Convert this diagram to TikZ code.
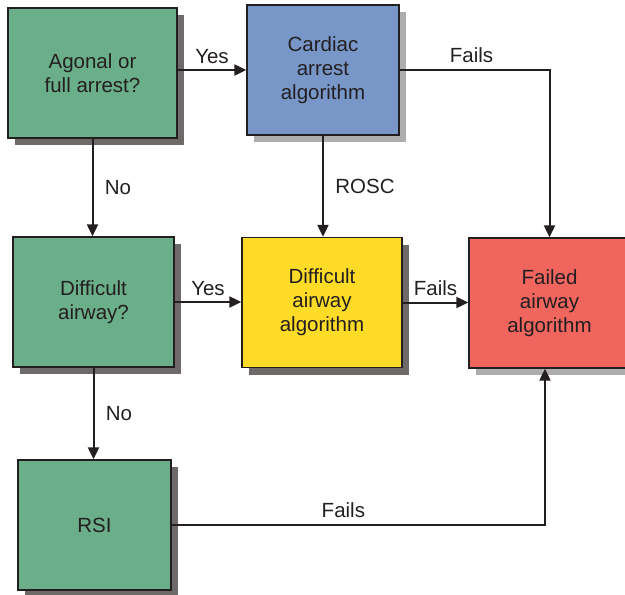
\documentclass[tikz,border=0pt]{standalone}
\usepackage{fontspec}
\setmainfont{Liberation Sans}
\usetikzlibrary{arrows.meta,shadows}
\definecolor{boxgreen}{HTML}{6BAF8A}
\definecolor{boxblue}{HTML}{7896C8}
\definecolor{boxyellow}{HTML}{FDDB27}
\definecolor{boxred}{HTML}{F0655E}
\definecolor{darkshade}{HTML}{6E6A69}
\definecolor{lightshade}{HTML}{ADADAD}
\definecolor{ink}{HTML}{231F20}

\begin{document}
\begin{tikzpicture}[x=1pt,y=-1pt,
  font=\fontsize{20.5}{24}\selectfont, text=ink,
  box/.style={draw=ink,line width=1.3pt,align=center,inner sep=0pt,minimum height=130pt},
  dark/.style={drop shadow={shadow xshift=7pt,shadow yshift=-7pt,opacity=1,fill=darkshade}},
  light/.style={drop shadow={shadow xshift=7pt,shadow yshift=-7pt,opacity=1,fill=lightshade}},
  arr/.style={draw=ink,line width=2pt,-{Triangle[length=12pt,width=11pt]}}]
  \useasboundingbox (0,0) rectangle (625,595);
  \node[box,dark,fill=boxgreen,minimum width=169pt] (agonal) at (92.5,73) {Agonal or\\full arrest?};
  \node[box,light,fill=boxblue,minimum width=152pt] (cardiac) at (323,70) {Cardiac\\arrest\\algorithm};
  \node[box,dark,fill=boxgreen,minimum width=161pt] (diffair) at (93.5,302) {Difficult\\airway?};
  \node[box,dark,fill=boxyellow,minimum width=160pt] (diffalg) at (322,302.5) {Difficult\\airway\\algorithm};
  \node[box,light,fill=boxred,minimum width=161pt] (failed) at (549.5,303) {Failed\\airway\\algorithm};
  \node[box,dark,fill=boxgreen,minimum width=153pt] (rsi) at (94.5,525) {RSI};
  \draw[arr] (agonal.east |- cardiac.west) -- node[above=2pt] {Yes} (cardiac.west);
  \draw[arr] (cardiac.east) -| node[pos=0.24,above=3pt] {Fails} (failed.north);
  \draw[arr] (agonal.south) -- node[right=8pt] {No} (agonal.south |- diffair.north);
  \draw[arr] (cardiac.south) -- node[right=8pt] {ROSC} (cardiac.south |- diffalg.north);
  \draw[arr] (diffair.east) -- node[above=2pt] {Yes} (diffair.east -| diffalg.west);
  \draw[arr] (diffalg.east) -- node[above=2pt] {Fails} (diffalg.east -| failed.west);
  \draw[arr] (diffair.south) -- node[right=8pt] {No} (diffair.south |- rsi.north);
  \draw[arr] (rsi.east) -| node[pos=0.23,above=3pt] {Fails} ([xshift=-4.5pt]failed.south);
\end{tikzpicture}
\end{document}
